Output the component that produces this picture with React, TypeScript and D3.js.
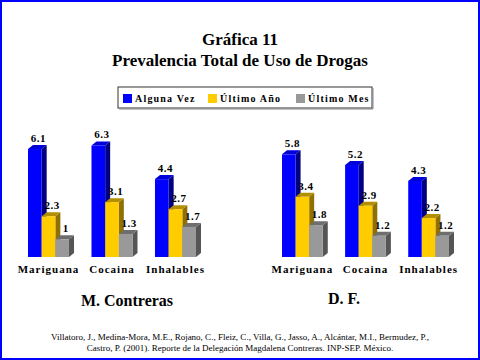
import React from "react";
import { scaleBand, scaleLinear } from "d3";

const width = 480, height = 360

const categories = ["Mariguana", "Cocaina", "Inhalables"]
const series = ["Alguna Vez", "Último Año", "Último Mes"]
const contreras = [[6.1, 2.3, 1], [6.3, 3.1, 1.3], [4.4, 2.7, 1.7]]
const df = [[5.8, 3.4, 1.8], [5.2, 2.9, 1.2], [4.3, 2.2, 1.2]]

const front = ["#0000ff", "#ffcc00", "#999999"]
const side = ["#000080", "#8f7000", "#555555"]
const top = ["#0000d8", "#b38f00", "#6e6e6e"]

const dx = 5, dy = 4
const serif = "'Liberation Serif', 'Times New Roman', serif"

const y = scaleLinear().domain([0, 7]).range([257, 257 - 7 * 17.7])

const Panel = ({ data, range }: { data: number[][], range: [number, number] }) => {
  const x = scaleBand().domain(categories).range(range).paddingInner(0.354)
  const inner = scaleBand().domain(series).range([0, x.bandwidth()])
  const w = inner.bandwidth()
  const b = y(0)
  return <g>
    {categories.map((c, i) => {
      const gx = x(c)!
      return <g key={c}>
        {series.map((s, j) => {
          const x0 = gx + inner(s)!
          const y0 = y(data[i][j])
          return <g key={s}>
            <polygon points={`${x0 + w},${y0} ${x0 + w + dx},${y0 - dy} ${x0 + w + dx},${b - dy} ${x0 + w},${b}`} fill={side[j]} />
            <polygon points={`${x0},${y0} ${x0 + dx},${y0 - dy} ${x0 + w + dx},${y0 - dy} ${x0 + w},${y0}`} fill={top[j]} />
            <rect x={x0} y={y0} width={w} height={b - y0} fill={front[j]} />
          </g>
        })}
        {series.map((s, j) => {
          const v = data[i][j]
          return <text key={s} x={gx + inner(s)! + w / 2 + 3.5} y={y(v) - dy - 3} textAnchor="middle"
            fontFamily={serif} fontWeight="bold" fontSize={11} letterSpacing={0.5}>{v}</text>
        })}
        <text x={gx + x.bandwidth() / 2} y={273} textAnchor="middle" fontFamily={serif}
          fontWeight="bold" fontSize={11} letterSpacing={1}>{c}</text>
      </g>
    })}
  </g>
}

const legendX = [123, 208, 296]

export default function App() {
  return <div style={{ position: "absolute", left: 0, top: 0 }}>
    <svg width={width} height={height} style={{ display: "block", background: "#fff" }}>
      <rect x={1} y={1} width={width - 2} height={height - 2} fill="none" stroke="#0000ff" strokeWidth={2} />
      <text x={240} y={45} textAnchor="middle" fontFamily={serif} fontWeight="bold" fontSize={17}>Gráfica 11</text>
      <text x={240} y={66} textAnchor="middle" fontFamily={serif} fontWeight="bold" fontSize={17}>Prevalencia Total de Uso de Drogas</text>

      <rect x={118} y={87} width={254} height={21} fill="#fff" stroke="#333" strokeWidth={1} />
      <line x1={119} y1={109} x2={373} y2={109} stroke="#888" />
      <line x1={373} y1={88} x2={373} y2={109} stroke="#888" />
      {series.map((s, j) => <g key={s}>
        <rect x={legendX[j]} y={94} width={9} height={9} fill={front[j]} />
        <text x={legendX[j] + 12} y={102} fontFamily={serif} fontWeight="bold" fontSize={10}
          letterSpacing={1.2}>{s}</text>
      </g>)}

      <Panel data={contreras} range={[28, 196]} />
      <Panel data={df} range={[282, 449]} />

      <text x={127} y={306} textAnchor="middle" fontFamily={serif} fontWeight="bold" fontSize={16}>M. Contreras</text>
      <text x={344} y={304} textAnchor="middle" fontFamily={serif} fontWeight="bold" fontSize={16}>D. F.</text>

      <text x={240} y={340} textAnchor="middle" fontFamily={serif} fontSize={9}>Villatoro, J., Medina-Mora, M.E., Rojano, C., Fleiz, C., Villa, G., Jasso, A., Alcántar, M.I., Bermudez, P.,</text>
      <text x={240} y={351} textAnchor="middle" fontFamily={serif} fontSize={9}>Castro, P. (2001). Reporte de la Delegación Magdalena Contreras. INP-SEP. México.</text>
    </svg>
  </div>
}
